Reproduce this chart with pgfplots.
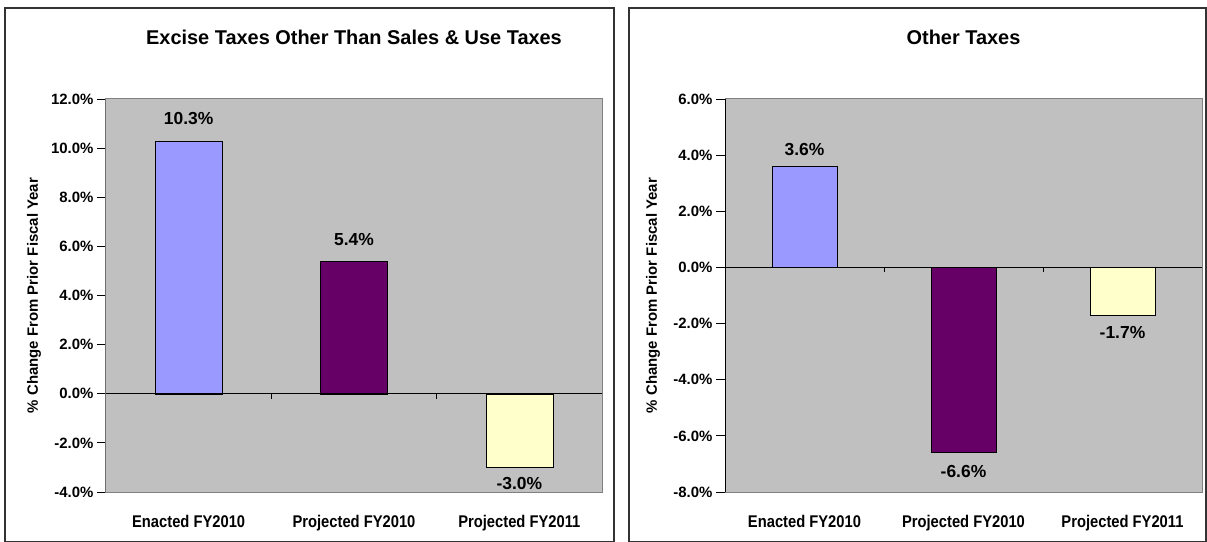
\documentclass[border=0pt]{standalone}
\usepackage{fontspec}
\setmainfont{Liberation Sans}
\newfontfamily\catfont[FakeStretch=0.87]{Liberation Sans}
\usepackage{pgfplots}
\pgfplotsset{compat=1.18}
\definecolor{plotgrey}{HTML}{C0C0C0}
\definecolor{barA}{HTML}{9999FF}
\definecolor{barB}{HTML}{660066}
\definecolor{barC}{HTML}{FFFFCC}
\definecolor{frameg}{HTML}{808080}
\definecolor{panelline}{HTML}{333333}
\newcommand{\fs}[1]{\fontsize{#1}{#1}\selectfont\bfseries}
\pgfplotsset{
  panel/.style={
    scale only axis, height=393bp,
    xmin=-0.5, xmax=2.5, xtick={0,1,2},
    xticklabels={Enacted FY2010, Projected FY2010, Projected FY2011},
    x tick style={draw=none},
    xticklabel style={font=\catfont\fs{17}, anchor=base, yshift=-26bp},
    /pgf/number format/assume math mode=true,
    yticklabel={\pgfmathprintnumber[fixed,fixed zerofill,precision=1]{\tick}\%},
    yticklabel style={font=\fs{15}},
    ytick pos=left, tick align=outside, major tick length=9bp,
    y tick style={black, line width=0.8bp},
    axis background/.style={fill=plotgrey},
    axis line style={frameg, line width=1bp},
    ylabel={\% Change From Prior Fiscal Year},
    ylabel style={font=\fs{15}, anchor=center, rotate=0},
    title style={font=\fs{20}, anchor=base, at={(axis description cs:0.5,1)}, yshift=49bp},
    nodes near coords={\pgfmathprintnumber[fixed,fixed zerofill,precision=1]{\pgfplotspointmeta}\%},
    every node near coord/.append style={font=\fs{17.5}, anchor=center, black},
  },
  lab/.style={every node near coord/.append style={yshift=#1}},
}
\begin{document}
\begin{tikzpicture}
\useasboundingbox (0,0) rectangle (1207bp,542bp);
\draw[panelline, line width=1.3bp] (5bp,0bp) rectangle (614bp,534bp);
\draw[panelline, line width=1.3bp] (629bp,0bp) rectangle (1206bp,534bp);
\begin{axis}[panel, at={(106bp,50bp)}, anchor=south west, width=496bp,
  ymin=-4, ymax=12, ytick={-4,-2,0,2,4,6,8,10,12},
  ylabel style={at={(axis description cs:-0.145,0.5)}},
  title={Excise Taxes Other Than Sales \& Use Taxes}]
\addplot[ybar, bar width=67bp, bar shift=0pt, fill=barA, draw=black, lab=22bp] coordinates {(0,10.3)};
\addplot[ybar, bar width=67bp, bar shift=0pt, fill=barB, draw=black, lab=22bp] coordinates {(1,5.4)};
\addplot[ybar, bar width=67bp, bar shift=0pt, fill=barC, draw=black, lab=-16bp] coordinates {(2,-3.0)};
\draw[black, line width=0.8bp] (axis cs:-0.5,0) -- (axis cs:2.5,0);
\draw[black, line width=0.8bp] (axis cs:0.5,0) -- ([yshift=-5bp]axis cs:0.5,0);
\draw[black, line width=0.8bp] (axis cs:1.5,0) -- ([yshift=-5bp]axis cs:1.5,0);
\draw[black, line width=1bp] (rel axis cs:0,0) -- (rel axis cs:0,1);
\end{axis}
\begin{axis}[panel, at={(725bp,50bp)}, anchor=south west, width=477bp,
  ymin=-8, ymax=6, ytick={-8,-6,-4,-2,0,2,4,6},
  ylabel style={at={(axis description cs:-0.151,0.5)}},
  title={Other Taxes}]
\addplot[ybar, bar width=65bp, bar shift=0pt, fill=barA, draw=black, lab=17bp] coordinates {(0,3.6)};
\addplot[ybar, bar width=65bp, bar shift=0pt, fill=barB, draw=black, lab=-19bp] coordinates {(1,-6.6)};
\addplot[ybar, bar width=65bp, bar shift=0pt, fill=barC, draw=black, lab=-17bp] coordinates {(2,-1.7)};
\draw[black, line width=0.8bp] (axis cs:-0.5,0) -- (axis cs:2.5,0);
\draw[black, line width=0.8bp] (axis cs:0.5,0) -- ([yshift=-5bp]axis cs:0.5,0);
\draw[black, line width=0.8bp] (axis cs:1.5,0) -- ([yshift=-5bp]axis cs:1.5,0);
\draw[black, line width=1bp] (rel axis cs:0,0) -- (rel axis cs:0,1);
\end{axis}
\end{tikzpicture}
\end{document}
